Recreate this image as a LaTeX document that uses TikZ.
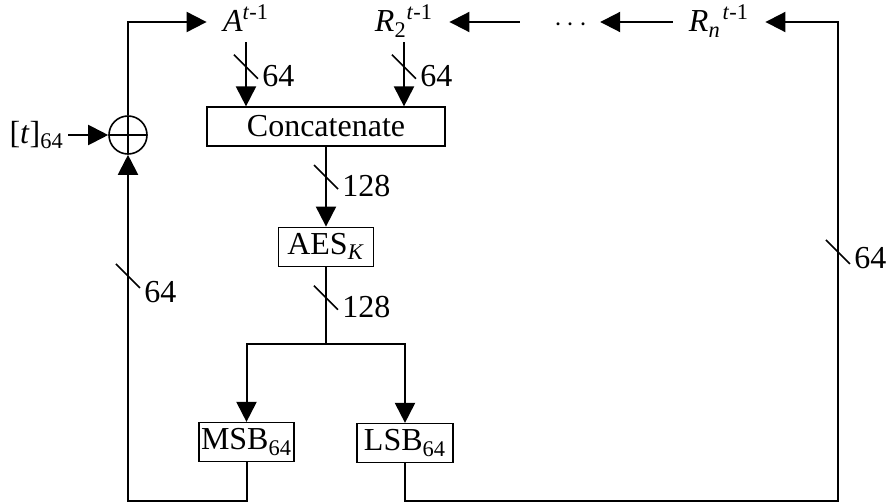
\documentclass[tikz,border=0pt]{standalone}
\usepackage{fontspec}
\setmainfont{Liberation Serif}
\usetikzlibrary{
  arrows.meta,
  calc,
  positioning
}
\newcommand{\buswidth}[3][9]{%
  \draw[slash] ($(#2)+(-12,-12)$) -- ($(#2)+(12,12)$);
  \node[anchor=west, inner sep=0pt] (#2w) at ($(#2)+(16,#1)$) {#3};
}
\tikzset{
  blk/.style={
    draw,
    line width=0.6pt,
    inner sep=0pt,
    minimum height=19.5pt
  },
  lbl/.style={inner xsep=8pt, inner ysep=1pt, text height=14pt, text depth=4pt},
  wire/.style={line width=1pt},
  arr/.style={wire, -{Triangle[length=10pt, width=10pt]}},
  slash/.style={line width=0.8pt},
  xor/.style={
    circle,
    draw,
    line width=0.8pt,
    minimum size=19pt,
    inner sep=0pt,
    path picture={
      \draw[line width=0.8pt]
        (path picture bounding box.north) -- (path picture bounding box.south)
        (path picture bounding box.west) -- (path picture bounding box.east);
    }
  }
}

\begin{document}
\begin{tikzpicture}[x=0.5pt, y=-0.5pt, font=\fontsize{16}{19}\selectfont]
\useasboundingbox (0,0) rectangle (889,503);

% --- register words ---
\node[lbl] (A) at (246,22) {\textit{A}\textsuperscript{\textit{t}-1}};
\node[lbl] (R2) at (404,22) {\textit{R}\textsubscript{2}\textsuperscript{\textit{t}-1}};
\node[lbl, inner xsep=6pt, font=\fontsize{15}{17}\selectfont] (dots) at (571,22) {$\cdots$};
\node[lbl] (Rn) at (719,22) {\textit{R}\textsubscript{\textit{n}}\kern1pt\textsuperscript{\textit{t}-1}};

% --- blocks ---
\node[blk, minimum width=119pt] (cat) at (326,126.5) {Concatenate};
\node[blk, minimum width=47.5pt, below=40pt of cat] (aes) {AES\textsubscript{\textit{K}}};
\node[blk, minimum width=47.5pt] (msb) at (246.5,442) {MSB\textsubscript{64}};
\node[blk, minimum width=48pt] (lsb) at (405,443) {LSB\textsubscript{64}};

\node[xor] (xor) at (128,135) {};
\node[left=20pt of xor, inner xsep=2pt] (t) {[\textit{t}]\textsubscript{64}};

\coordinate (split) at (326,344);
\coordinate (bl) at (128,501);
\coordinate (br) at (838,501);

% --- data path ---
\draw[arr] (A.south) -- coordinate[pos=.38] (bA) (A.south |- cat.north);
\draw[arr] (R2.south) -- coordinate[pos=.38] (bR) (R2.south |- cat.north);
\draw[arr] (cat) -- coordinate[pos=.38] (bC) (aes);
\draw[wire] (aes) -- coordinate[pos=.4] (bS) (split);
\draw[arr] (split) -| (msb.north);
\draw[arr] (split) -| (lsb.north);

% --- feedback ---
\draw[arr] (msb.south) |- (bl) -- coordinate[pos=.65] (bL) (xor.south);
\draw[arr] (t) -- (xor);
\draw[arr] (xor.north) |- (A.west);
\draw[arr] (lsb.south) |- (br) -- coordinate[pos=.52] (bN) (br |- Rn.east) -- (Rn.east);
\draw[arr] (Rn) -- (dots);
\draw[arr] ([xshift=-11pt]dots.west) -- (R2.east);

% --- bus widths ---
\buswidth{bA}{64}
\buswidth{bR}{64}
\buswidth{bC}{128}
\buswidth{bS}{128}
\buswidth[16]{bL}{64}
\buswidth[6]{bN}{64}

\end{tikzpicture}
\end{document}
